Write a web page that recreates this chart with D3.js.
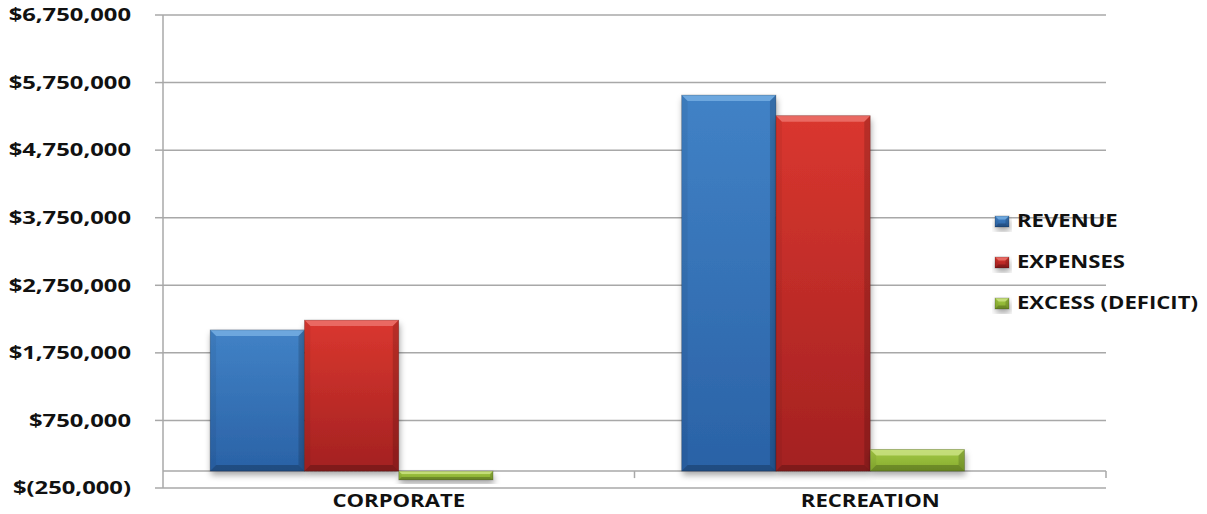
<!DOCTYPE html>
<html>
<head>
<meta charset="utf-8">
<script src="https://cdn.jsdelivr.net/npm/d3@7"></script>
<style>
  html, body { margin: 0; padding: 0; background: #fff; }
  svg { display: block; }
  text { font-family: "Open Sans", "Noto Sans", sans-serif; font-weight: 700; fill: #111; }
</style>
</head>
<body>
<svg id="chart" width="1207" height="514"></svg>
<script>
// Budget summary by division
const categories = ["CORPORATE", "RECREATION"];
const seriesNames = ["REVENUE", "EXPENSES", "EXCESS (DEFICIT)"];
const revenue = [2090000, 5565000];
const expenses = [2235000, 5260000];
const excess = [-130000, 320000];
const yTickValues = [-250000, 750000, 1750000, 2750000, 3750000, 4750000, 5750000, 6750000];

const seriesValues = [revenue, expenses, excess];
const palette = [
  { top: "#4182c6", bottom: "#2a62a6", bevel: "#78b0e4" },
  { top: "#da372f", bottom: "#a32121", bevel: "#ee766f" },
  { top: "#a2c845", bottom: "#86ab2d", bevel: "#cde486" }
];

const svg = d3.select("#chart");
const plot = { left: 163, right: 1106, top: 15, bottom: 488 };
const textStretch = 1.3;   // wide lettering
const tickStretch = 1.36;

const y = d3.scaleLinear()
  .domain([d3.min(yTickValues), d3.max(yTickValues)])
  .range([plot.bottom, plot.top]);

const x0 = d3.scaleBand()
  .domain(categories)
  .range([plot.left, plot.right])
  .paddingInner(0).paddingOuter(0);

// four slots per cluster, the last one left empty
const x1 = d3.scaleBand()
  .domain([...seriesNames, ""])
  .range([0, x0.bandwidth()])
  .paddingInner(0).paddingOuter(0.5);

const defs = svg.append("defs");
palette.forEach((p, i) => {
  const g = defs.append("linearGradient").attr("id", "grad" + i)
    .attr("x1", 0).attr("y1", 0).attr("x2", 0).attr("y2", 1);
  g.append("stop").attr("offset", "0%").attr("stop-color", p.top);
  g.append("stop").attr("offset", "100%").attr("stop-color", p.bottom);
});
const shadow = defs.append("filter").attr("id", "shadow")
  .attr("x", "-20%").attr("y", "-20%").attr("width", "140%").attr("height", "160%");
shadow.append("feDropShadow").attr("dx", 1).attr("dy", 4)
  .attr("stdDeviation", 3).attr("flood-color", "#000").attr("flood-opacity", 0.35);

// gridlines
const grid = svg.append("g");
grid.selectAll("line").data(yTickValues).join("line")
  .attr("x1", plot.left).attr("x2", plot.right)
  .attr("y1", d => y(d)).attr("y2", d => y(d))
  .attr("stroke", "#a8a8a8").attr("stroke-width", 1.5);

// value axis
const yAxis = svg.append("g");
yAxis.append("line")
  .attr("x1", plot.left).attr("x2", plot.left)
  .attr("y1", plot.top).attr("y2", plot.bottom)
  .attr("stroke", "#a8a8a8").attr("stroke-width", 1.5);
yAxis.selectAll("line.tick").data(yTickValues).join("line").attr("class", "tick")
  .attr("x1", plot.left - 8).attr("x2", plot.left)
  .attr("y1", d => y(d)).attr("y2", d => y(d))
  .attr("stroke", "#a8a8a8").attr("stroke-width", 1.5);

const money = v => v < 0
  ? "$(" + d3.format(",")(Math.abs(v)) + ")"
  : "$" + d3.format(",")(v);
yAxis.selectAll("text").data(yTickValues).join("text")
  .attr("transform", d => `translate(131,${y(d)}) scale(${tickStretch},1)`)
  .attr("text-anchor", "end").attr("dy", "0.36em")
  .style("font-size", "17.5px")
  .text(money);

// category axis along zero
const zeroY = y(0);
const xAxis = svg.append("g");
xAxis.append("line")
  .attr("x1", plot.left).attr("x2", plot.right)
  .attr("y1", zeroY).attr("y2", zeroY)
  .attr("stroke", "#a8a8a8").attr("stroke-width", 1.5);
xAxis.selectAll("line.tick").data(categories).join("line").attr("class", "tick")
  .attr("x1", d => x0(d) + x0.bandwidth()).attr("x2", d => x0(d) + x0.bandwidth())
  .attr("y1", zeroY).attr("y2", zeroY + 7)
  .attr("stroke", "#a8a8a8").attr("stroke-width", 1.5);
xAxis.selectAll("text").data(categories).join("text")
  .attr("transform", d => `translate(${x0(d) + x0.bandwidth() / 2},507) scale(${textStretch},1)`)
  .attr("text-anchor", "middle")
  .style("font-size", "17px")
  .text(d => d);

// bevelled bar
function bevelBar(g, bx, by, bw, bh, si) {
  const p = palette[si];
  const b = Math.min(6, bh / 3, bw / 4);
  const grp = g.append("g");
  grp.append("rect").attr("x", bx).attr("y", by).attr("width", bw).attr("height", bh)
    .attr("fill", `url(#grad${si})`).attr("filter", "url(#shadow)");
  const poly = pts => pts.map(q => q.join(",")).join(" ");
  grp.append("polygon").attr("points", poly([[bx, by], [bx + bw, by], [bx + bw - b, by + b], [bx + b, by + b]]))
    .attr("fill", p.bevel).attr("opacity", 0.8);
  grp.append("polygon").attr("points", poly([[bx, by], [bx + b, by + b], [bx + b, by + bh - b], [bx, by + bh]]))
    .attr("fill", "#000").attr("opacity", 0.05);
  grp.append("polygon").attr("points", poly([[bx + bw, by], [bx + bw - b, by + b], [bx + bw - b, by + bh - b], [bx + bw, by + bh]]))
    .attr("fill", "#000").attr("opacity", 0.15);
  grp.append("polygon").attr("points", poly([[bx, by + bh], [bx + bw, by + bh], [bx + bw - b, by + bh - b], [bx + b, by + bh - b]]))
    .attr("fill", "#000").attr("opacity", 0.22);
  grp.append("rect").attr("x", bx).attr("y", by).attr("width", bw).attr("height", bh)
    .attr("fill", "none").attr("stroke", "#000").attr("stroke-opacity", 0.25).attr("stroke-width", 0.8);
}

const bars = svg.append("g");
categories.forEach((c, ci) => {
  seriesNames.forEach((s, si) => {
    const v = seriesValues[si][ci];
    const top = y(Math.max(0, v)), bot = y(Math.min(0, v));
    bevelBar(bars, x0(c) + x1(s), top, x1.bandwidth(), bot - top, si);
  });
});

// legend
const legendRowY = d3.scalePoint().domain(seriesNames).range([221, 303]);
const legend = svg.append("g");
seriesNames.forEach((s, si) => {
  const ly = legendRowY(s);
  bevelBar(legend, 995, ly - 5, 14, 11, si);
  legend.append("text")
    .attr("transform", `translate(1017,${ly}) scale(${textStretch},1)`)
    .attr("dy", "0.36em")
    .style("font-size", "17px")
    .text(s);
});
</script>
</body>
</html>
